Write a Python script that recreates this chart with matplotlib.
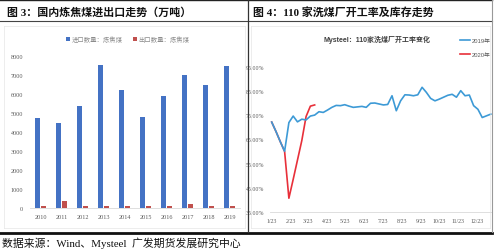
import matplotlib
matplotlib.use("Agg")
import matplotlib.pyplot as plt
import matplotlib.dates as mdates
from matplotlib.lines import Line2D
import numpy as np
import pandas as pd

# ---------------- data ----------------
years = ["2010", "2011", "2012", "2013", "2014", "2015", "2016", "2017", "2018", "2019"]
imports = [4727, 4466, 5355, 7540, 6233, 4783, 5918, 6988, 6490, 7466]
exports = [115, 380, 130, 110, 80, 100, 120, 200, 90, 110]

rate_2019 = [72.2, 68.3, 64.1, 60.1, 72.0, 74.7, 72.3, 73.4, 73.1, 74.7,
             75.1, 76.5, 76.2, 77.2, 78.3, 79.1, 79.0, 79.4, 78.8, 78.3,
             78.5, 78.7, 78.3, 80.0, 80.1, 79.7, 79.3, 79.5, 83.1, 76.9,
             81.0, 83.5, 83.4, 83.1, 83.5, 86.6, 84.5, 82.0, 81.0, 81.7,
             82.5, 83.3, 83.7, 82.5, 85.2, 83.1, 83.4, 79.0, 77.5, 74.1,
             74.8, 75.5]
rate_2020 = [72.2, 68.3, 64.1, 60.1, 40.7, 48.5, 56.5, 64.5, 74.5, 78.8, 79.3]
week_dates = pd.date_range("2019-01-23", periods=len(rate_2019), freq="7D")
month_ticks = pd.date_range("2019-01-23", periods=12, freq=pd.DateOffset(months=1))
month_labels = ["1/23", "2/23", "3/23", "4/23", "5/23", "6/23", "7/23", "8/23",
                "9/23", "10/23", "11/23", "12/23"]
y_ticks_right = [35, 45, 55, 65, 75, 85, 95]

# ---------------- figure ----------------
W, H = 500, 253
fig = plt.figure(figsize=(W / 100, H / 100), dpi=100)
fig.patch.set_facecolor("white")

def fx(x):
    return x / W

def fy(y):
    return 1 - y / H

CJK = ["Liberation Serif", "Noto Sans CJK SC"]
SANS = ["Liberation Sans", "Noto Sans CJK SC"]

# frame lines
def hline(y, x0, x1, lw, color):
    fig.add_artist(Line2D([fx(x0), fx(x1)], [fy(y), fy(y)], lw=lw, color=color,
                          transform=fig.transFigure))

def vline(x, y0, y1, lw, color):
    fig.add_artist(Line2D([fx(x), fx(x)], [fy(y0), fy(y1)], lw=lw, color=color,
                          transform=fig.transFigure))

hline(1, 0, 492, 1.0, "#222222")
hline(22, 0, 492, 0.8, "#444444")
hline(233.5, 0, 492, 2.0, "#111111")
vline(248, 1, 233, 0.9, "#333333")
vline(492, 1, 233, 0.8, "#999999")
# light inner chart boxes
for (x0, x1) in [(4, 245), (251, 490)]:
    hline(27, x0, x1, 0.4, "#e0e0e0")
    hline(229, x0, x1, 0.4, "#e0e0e0")
    vline(x0, 27, 229, 0.4, "#e0e0e0")
    vline(x1, 27, 229, 0.4, "#e0e0e0")

# titles
fig.text(fx(7), fy(12.5), "图 3：国内炼焦煤进出口走势（万吨）", family=CJK,
         fontsize=7.9, fontweight="bold", va="center", ha="left", color="#111111")
fig.text(fx(253), fy(12.5), "图 4：110 家洗煤厂开工率及库存走势", family=CJK,
         fontsize=7.9, fontweight="bold", va="center", ha="left", color="#111111")
fig.text(fx(2), fy(243.5), "数据来源：Wind、Mysteel  广发期货发展研究中心", family=CJK,
         fontsize=7.8, va="center", ha="left", color="#111111")

# ---------------- left chart ----------------
axL = fig.add_axes([fx(30), fy(209), fx(240) - fx(30), fy(57) - fy(209)])
x = np.arange(len(years))
bw = 0.25
axL.bar(x - 0.15, imports, width=bw, color="#4472c4", label="进口数量：炼焦煤")
axL.bar(x + 0.15, exports, width=bw, color="#c0504d", label="出口数量：炼焦煤")
axL.set_xlim(-0.5, len(years) - 0.5)
axL.set_ylim(0, 8000)
axL.set_yticks(range(0, 8001, 1000))
axL.set_xticks(x)
axL.set_xticklabels(years)
for s in ["top", "right", "left"]:
    axL.spines[s].set_visible(False)
axL.spines["bottom"].set_color("#d9d9d9")
axL.spines["bottom"].set_linewidth(0.6)
axL.tick_params(length=0, labelsize=4.4, labelcolor="#595959", pad=4)
axL.tick_params(axis="y", pad=5)
for t in axL.get_xticklabels() + axL.get_yticklabels():
    t.set_family(["Liberation Serif"])
axL.patch.set_alpha(0)
leg = axL.legend(loc="center", bbox_to_anchor=(fx(128), fy(39.5)),
                 bbox_transform=fig.transFigure, ncol=2, frameon=False,
                 prop={"family": SANS, "size": 4.6}, handlelength=0.6,
                 handleheight=0.6, handletextpad=0.3, columnspacing=1.6)
for t in leg.get_texts():
    t.set_color("#8c8c8c")

# ---------------- right chart ----------------
axR = fig.add_axes([fx(270), fy(213), fx(492) - fx(270), fy(68) - fy(213)])
axR.plot(week_dates, rate_2019, color="#3d9ad6", lw=1.2, label="2019年", zorder=3)
axR.plot(week_dates[:len(rate_2020)], rate_2020, color="#e8303a", lw=1.2,
         label="2020年", zorder=2)
d0 = pd.Timestamp("2019-01-23")
px_per_day = (476.7 - 271.7) / 334.0
axR.set_xlim(d0 - pd.Timedelta(days=1.7 / px_per_day),
             d0 + pd.Timedelta(days=(492 - 271.7) / px_per_day))
axR.set_ylim(35, 95)
axR.set_yticks(y_ticks_right)
axR.set_yticklabels([f"{v:.2f}%" for v in y_ticks_right])
axR.set_xticks(month_ticks)
axR.set_xticklabels(month_labels)
for s in ["top", "right", "left"]:
    axR.spines[s].set_visible(False)
axR.spines["bottom"].set_color("#d9d9d9")
axR.spines["bottom"].set_linewidth(0.6)
axR.tick_params(length=0, labelsize=4.2, labelcolor="#595959", pad=4)
for t in axR.get_xticklabels() + axR.get_yticklabels():
    t.set_family(["Liberation Serif"])
axR.patch.set_alpha(0)

fig.text(fx(377), fy(40), "Mysteel：110家洗煤厂开工率变化", family=SANS,
         fontsize=5.0, fontweight="bold", va="center", ha="center", color="#404040")
legR = axR.legend(loc="upper left", bbox_to_anchor=(fx(455), fy(34)),
                  bbox_transform=fig.transFigure, frameon=False,
                  prop={"family": SANS, "size": 4.2}, handlelength=1.6,
                  handletextpad=0.4, labelspacing=1.4)
for t in legR.get_texts():
    t.set_color("#595959")

fig.savefig("out.png", dpi=100, facecolor="white")
